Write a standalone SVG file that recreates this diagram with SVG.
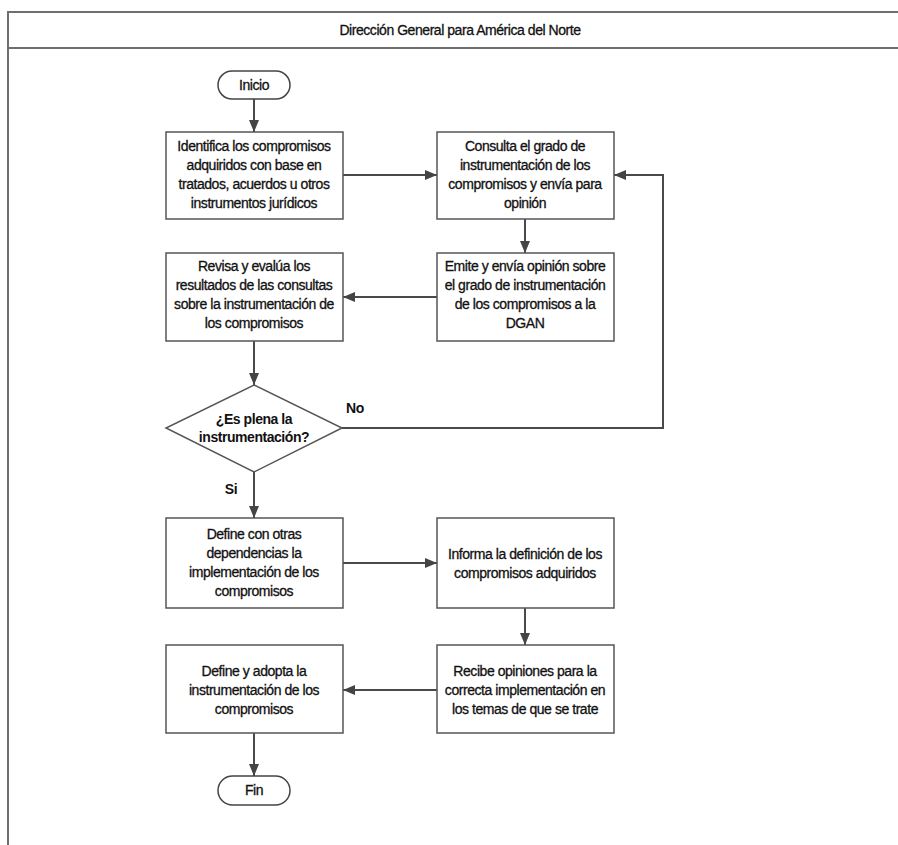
<svg xmlns="http://www.w3.org/2000/svg" width="898" height="845" viewBox="0 0 898 845">
  <defs>
    <marker id="arrow" viewBox="0 0 12 10" refX="12" refY="5" markerWidth="12" markerHeight="10" markerUnits="userSpaceOnUse" orient="auto">
      <path d="M0,0 L12,5 L0,10 Z" fill="#444"/>
    </marker>
    <style>
      .frame { fill: none; stroke: #6e6e6e; stroke-width: 2; }
      .box { fill: #fff; stroke: #555; stroke-width: 1.5; }
      .term { fill: #fff; stroke: #444; stroke-width: 1.5; }
      .edge { fill: none; stroke: #4a4a4a; stroke-width: 2; marker-end: url(#arrow); }
      text { font-family: "Liberation Sans", Arial, sans-serif; font-size: 14px; fill: #111; stroke: #111; stroke-width: 0.3; text-anchor: middle; letter-spacing: -0.45px; }
      .bold { font-weight: bold; stroke-width: 0; }
    </style>
  </defs>

  <rect width="898" height="845" fill="#fff"/>

  <!-- swimlane frame -->
  <g id="lane">
    <path class="frame" d="M898,12 H8 V845"/>
    <path class="frame" d="M8,48 H898"/>
    <text x="460" y="35">Dirección General para América del Norte</text>
  </g>

  <!-- connectors -->
  <g id="connectors">
    <path class="edge" d="M254,99 V132"/>
    <path class="edge" d="M343,175 H437"/>
    <path class="edge" d="M525,219 V253"/>
    <path class="edge" d="M437,297 H343"/>
    <path class="edge" d="M254,341 V385"/>
    <path class="edge" d="M342,428 H663 V175 H614"/>
    <path class="edge" d="M254,472 V518"/>
    <path class="edge" d="M343,563 H437"/>
    <path class="edge" d="M525,608 V645"/>
    <path class="edge" d="M437,690 H343"/>
    <path class="edge" d="M254,733 V776"/>
  </g>

  <g id="inicio">
    <rect class="term" x="218" y="71" width="72" height="28" rx="14"/>
    <text x="254" y="90">Inicio</text>
  </g>

  <g id="identifica">
    <rect class="box" x="166" y="132" width="177" height="87"/>
    <text x="254" y="151">Identifica los compromisos</text>
    <text x="254" y="170">adquiridos con base en</text>
    <text x="254" y="189">tratados, acuerdos u otros</text>
    <text x="254" y="208">instrumentos jurídicos</text>
  </g>

  <g id="consulta">
    <rect class="box" x="437" y="132" width="177" height="87"/>
    <text x="525" y="151">Consulta  el grado de</text>
    <text x="525" y="170">instrumentación de los</text>
    <text x="525" y="189">compromisos y envía para</text>
    <text x="525" y="208">opinión</text>
  </g>

  <g id="emite">
    <rect class="box" x="437" y="253" width="177" height="88"/>
    <text x="525" y="271">Emite y envía opinión sobre</text>
    <text x="525" y="290">el grado de instrumentación</text>
    <text x="525" y="309">de los compromisos a la</text>
    <text x="525" y="328">DGAN</text>
  </g>

  <g id="revisa">
    <rect class="box" x="166" y="253" width="177" height="88"/>
    <text x="254" y="271">Revisa y evalúa los</text>
    <text x="254" y="290">resultados de las consultas</text>
    <text x="254" y="309">sobre la instrumentación de</text>
    <text x="254" y="328">los compromisos</text>
  </g>

  <g id="decision">
    <polygon class="box" points="254,385 342,428 254,472 166,428"/>
    <text class="bold" x="254" y="424">¿Es plena la</text>
    <text class="bold" x="254" y="442">instrumentación?</text>
    <text class="bold" x="355" y="413">No</text>
    <text class="bold" x="231" y="494">Si</text>
  </g>

  <g id="define-otras">
    <rect class="box" x="166" y="518" width="177" height="90"/>
    <text x="254" y="539">Define  con otras</text>
    <text x="254" y="558">dependencias la</text>
    <text x="254" y="577">implementación de los</text>
    <text x="254" y="596">compromisos</text>
  </g>

  <g id="informa">
    <rect class="box" x="437" y="518" width="177" height="90"/>
    <text x="525" y="559">Informa la definición de los</text>
    <text x="525" y="578">compromisos adquiridos</text>
  </g>

  <g id="recibe">
    <rect class="box" x="437" y="645" width="177" height="88"/>
    <text x="525" y="676">Recibe opiniones para la</text>
    <text x="525" y="695">correcta implementación en</text>
    <text x="525" y="714">los temas de que se trate</text>
  </g>

  <g id="define-adopta">
    <rect class="box" x="166" y="645" width="177" height="88"/>
    <text x="254" y="676">Define y adopta  la</text>
    <text x="254" y="695">instrumentación de los</text>
    <text x="254" y="714">compromisos</text>
  </g>

  <g id="fin">
    <rect class="term" x="218" y="776" width="72" height="29" rx="14.5"/>
    <text x="254" y="795">Fin</text>
  </g>
</svg>
